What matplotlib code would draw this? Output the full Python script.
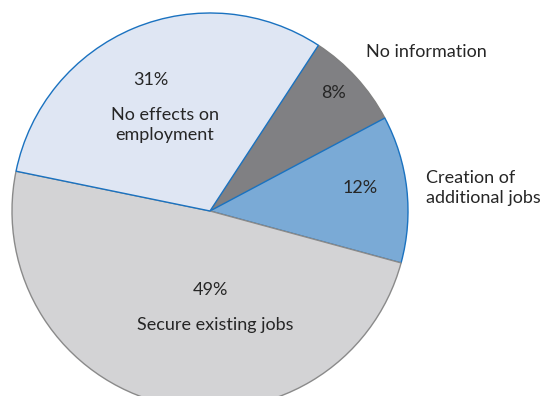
import matplotlib.pyplot as plt

# slices clockwise from the top boundary
labels = ["No information", "Creation of\nadditional jobs", "Secure existing jobs", "No effects on\nemployment"]
shares = [8, 12, 49, 31]
colors = ["#808083", "#7aaad6", "#d3d3d5", "#dfe6f3"]
edges = ["#7f7f7f", "#1a72c0", "#8a8a8a", "#1a72c0"]

W, H = 542, 396
plt.rcParams["font.family"] = ["Lato", "DejaVu Sans"]
txt = "#262626"

fig = plt.figure(figsize=(W / 100, H / 100), dpi=100)
ax = fig.add_axes([0, 0, 1, 1])

cx, cy, r = 210, H - 211, 198
wedges, _ = ax.pie(shares, colors=colors, startangle=56.8, counterclock=False,
                   center=(cx, cy), radius=r,
                   wedgeprops=dict(linewidth=1.0))
for w, ec in zip(wedges, edges):
    w.set_edgecolor(ec)

ax.set_xlim(0, W)
ax.set_ylim(0, H)
ax.set_aspect("equal")
ax.axis("off")


def put(x, y, s, **kw):
    ax.text(x, H - y, s, ha="center", va="center", color=txt, fontsize=13,
            linespacing=1.35, **kw)


# value labels inside the slices
put(333, 93, f"{shares[0]}%")
put(360, 188, f"{shares[1]}%")
put(210, 290, f"{shares[2]}%")
put(151, 80, f"{shares[3]}%")

# category names
put(426, 52, labels[0])
put(483, 188, labels[1], multialignment="left")
put(215, 325, labels[2])
put(165, 125, labels[3])

fig.savefig("out.png", dpi=100)
